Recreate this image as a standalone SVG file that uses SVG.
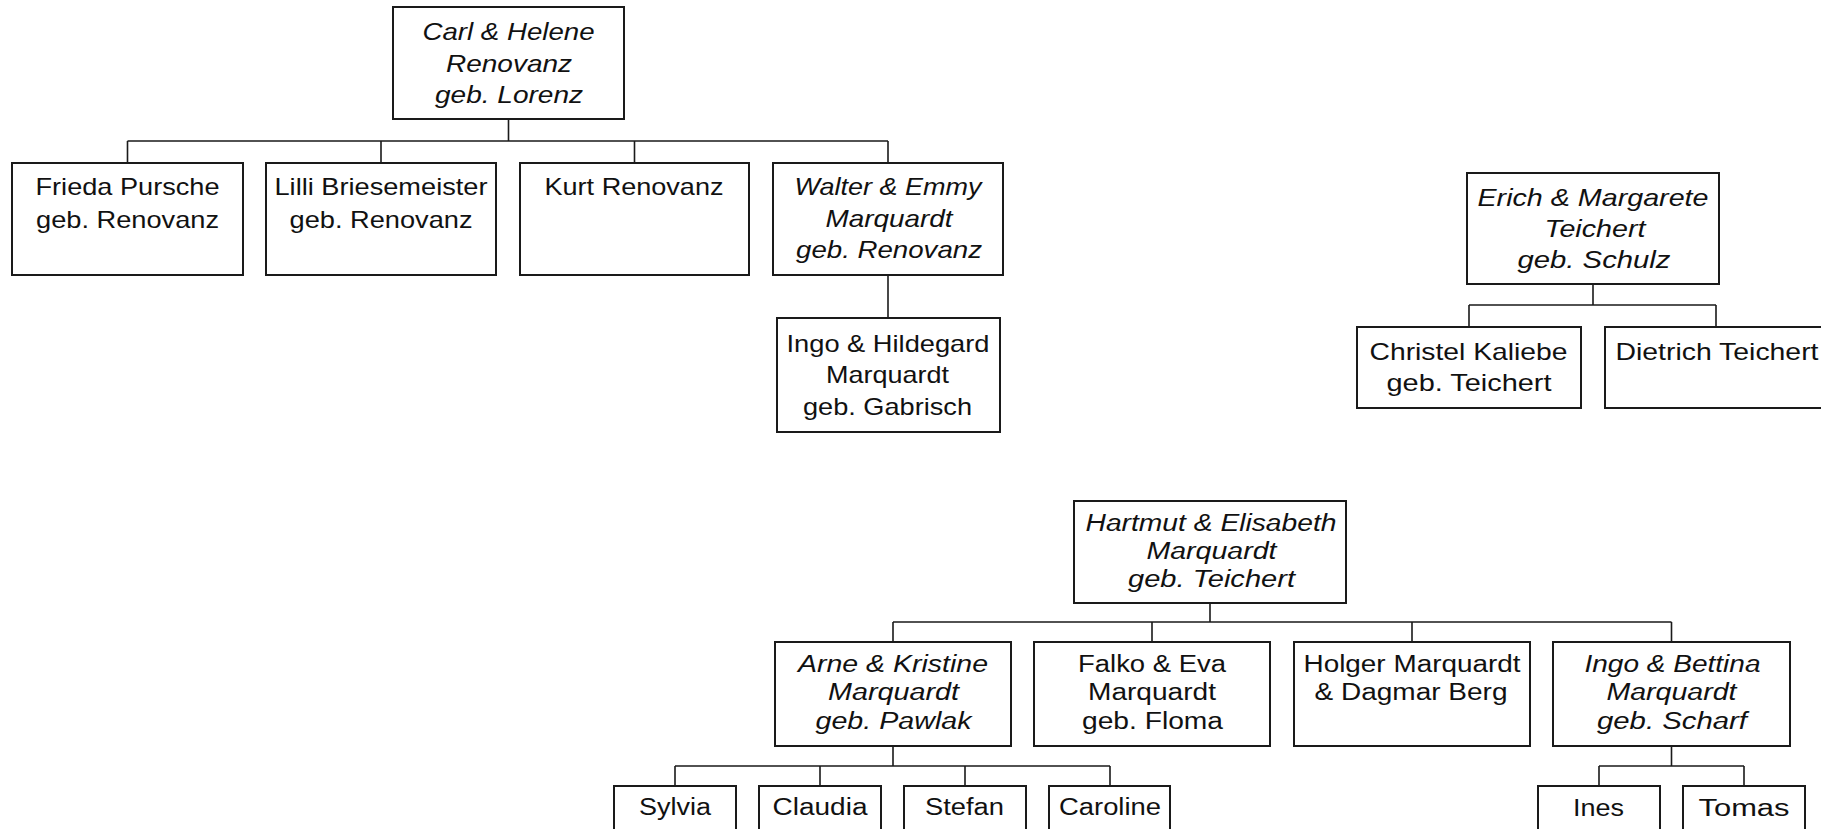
<svg xmlns="http://www.w3.org/2000/svg" width="1821" height="829" viewBox="0 0 1821 829">
<style>
rect.n{fill:#fff;stroke:#1a1a1a;stroke-width:2}
.c path{fill:none;stroke:#1a1a1a;stroke-width:1.6}
text{font-family:"Liberation Sans",Arial,sans-serif;fill:#111;text-anchor:middle}
.t{font-size:24px}
.b{font-size:23px}
.i{font-style:italic}
</style>
<rect width="1821" height="829" fill="#fff"/>
<g class="c" id="connectors">
<path d="M508.5,119V141M127.5,141H888M127.5,141V163M381,141V163M634.5,141V163M888,141V163"/>
<path d="M888,275V318"/>
<path d="M1593,284V305M1469,305H1716M1469,305V327M1716,305V327"/>
<path d="M1210,603V622M893,622H1671.5M893,622V642M1152,622V642M1412,622V642M1671.5,622V642"/>
<path d="M893,746V766M675,766H1110M675,766V786M820,766V786M965,766V786M1110,766V786"/>
<path d="M1671.5,746V766M1599,766H1744M1599,766V786M1744,766V786"/>
</g>
<g id="carl" class="t i">
<rect class="n" x="393" y="7" width="231" height="112"/>
<text x="508.5" y="40" textLength="172" lengthAdjust="spacingAndGlyphs">Carl &amp; Helene</text>
<text x="509" y="71.5" textLength="126" lengthAdjust="spacingAndGlyphs">Renovanz</text>
<text x="509" y="103" textLength="148" lengthAdjust="spacingAndGlyphs">geb. Lorenz</text>
</g>
<g id="frieda" class="t">
<rect class="n" x="12" y="163" width="231" height="112"/>
<text x="127.5" y="195" textLength="184" lengthAdjust="spacingAndGlyphs">Frieda Pursche</text>
<text x="127.5" y="227.5" textLength="183" lengthAdjust="spacingAndGlyphs">geb. Renovanz</text>
</g>
<g id="lilli" class="t">
<rect class="n" x="266" y="163" width="230" height="112"/>
<text x="381" y="195" textLength="213" lengthAdjust="spacingAndGlyphs">Lilli Briesemeister</text>
<text x="381" y="227.5" textLength="183" lengthAdjust="spacingAndGlyphs">geb. Renovanz</text>
</g>
<g id="kurt" class="t">
<rect class="n" x="520" y="163" width="229" height="112"/>
<text x="634" y="195" textLength="179" lengthAdjust="spacingAndGlyphs">Kurt Renovanz</text>
</g>
<g id="walter" class="t i">
<rect class="n" x="773" y="163" width="230" height="112"/>
<text x="888" y="195" textLength="187" lengthAdjust="spacingAndGlyphs">Walter &amp; Emmy</text>
<text x="889" y="226.7" textLength="127" lengthAdjust="spacingAndGlyphs">Marquardt</text>
<text x="889" y="258.3" textLength="186" lengthAdjust="spacingAndGlyphs">geb. Renovanz</text>
</g>
<g id="ingo-hildegard" class="t">
<rect class="n" x="777" y="318" width="223" height="114"/>
<text x="888" y="351.5" textLength="203" lengthAdjust="spacingAndGlyphs">Ingo &amp; Hildegard</text>
<text x="887.5" y="383.3" textLength="123" lengthAdjust="spacingAndGlyphs">Marquardt</text>
<text x="887.5" y="415" textLength="169" lengthAdjust="spacingAndGlyphs">geb. Gabrisch</text>
</g>
<g id="erich" class="t i">
<rect class="n" x="1467" y="173" width="252" height="111"/>
<text x="1593" y="206" textLength="231" lengthAdjust="spacingAndGlyphs">Erich &amp; Margarete</text>
<text x="1595" y="236.5" textLength="101" lengthAdjust="spacingAndGlyphs">Teichert</text>
<text x="1594" y="267.5" textLength="153" lengthAdjust="spacingAndGlyphs">geb. Schulz</text>
</g>
<g id="christel" class="t">
<rect class="n" x="1357" y="327" width="224" height="81"/>
<text x="1468.5" y="359.5" textLength="198" lengthAdjust="spacingAndGlyphs">Christel Kaliebe</text>
<text x="1469" y="390.7" textLength="165" lengthAdjust="spacingAndGlyphs">geb. Teichert</text>
</g>
<g id="dietrich" class="t">
<rect class="n" x="1605" y="327" width="222" height="81"/>
<text x="1717" y="359.5" textLength="203" lengthAdjust="spacingAndGlyphs">Dietrich Teichert</text>
</g>
<g id="hartmut" class="b i">
<rect class="n" x="1074" y="501" width="272" height="102"/>
<text x="1211" y="530.7" textLength="251" lengthAdjust="spacingAndGlyphs">Hartmut &amp; Elisabeth</text>
<text x="1211.5" y="559" textLength="130" lengthAdjust="spacingAndGlyphs">Marquardt</text>
<text x="1211.5" y="587.3" textLength="167" lengthAdjust="spacingAndGlyphs">geb. Teichert</text>
</g>
<g id="arne" class="b i">
<rect class="n" x="775" y="642" width="236" height="104"/>
<text x="893" y="671.7" textLength="190" lengthAdjust="spacingAndGlyphs">Arne &amp; Kristine</text>
<text x="893.5" y="700" textLength="131" lengthAdjust="spacingAndGlyphs">Marquardt</text>
<text x="893.5" y="728.5" textLength="156" lengthAdjust="spacingAndGlyphs">geb. Pawlak</text>
</g>
<g id="falko" class="b">
<rect class="n" x="1034" y="642" width="236" height="104"/>
<text x="1152" y="671.7" textLength="148" lengthAdjust="spacingAndGlyphs">Falko &amp; Eva</text>
<text x="1152" y="700" textLength="128" lengthAdjust="spacingAndGlyphs">Marquardt</text>
<text x="1152.5" y="728.5" textLength="141" lengthAdjust="spacingAndGlyphs">geb. Floma</text>
</g>
<g id="holger" class="b">
<rect class="n" x="1294" y="642" width="236" height="104"/>
<text x="1412" y="671.7" textLength="217" lengthAdjust="spacingAndGlyphs">Holger Marquardt</text>
<text x="1411" y="700" textLength="193" lengthAdjust="spacingAndGlyphs">&amp; Dagmar Berg</text>
</g>
<g id="ingo-bettina" class="b i">
<rect class="n" x="1553" y="642" width="237" height="104"/>
<text x="1672.5" y="671.7" textLength="176" lengthAdjust="spacingAndGlyphs">Ingo &amp; Bettina</text>
<text x="1671.5" y="700" textLength="130" lengthAdjust="spacingAndGlyphs">Marquardt</text>
<text x="1672" y="729" textLength="150" lengthAdjust="spacingAndGlyphs">geb. Scharf</text>
</g>
<g id="sylvia" class="b">
<rect class="n" x="614" y="786" width="122" height="70"/>
<text x="675" y="815" textLength="72" lengthAdjust="spacingAndGlyphs">Sylvia</text>
</g>
<g id="claudia" class="b">
<rect class="n" x="759" y="786" width="122" height="70"/>
<text x="820" y="815" textLength="95" lengthAdjust="spacingAndGlyphs">Claudia</text>
</g>
<g id="stefan" class="b">
<rect class="n" x="904" y="786" width="122" height="70"/>
<text x="964.5" y="815" textLength="79" lengthAdjust="spacingAndGlyphs">Stefan</text>
</g>
<g id="caroline" class="b">
<rect class="n" x="1049" y="786" width="121" height="70"/>
<text x="1110" y="815" textLength="102" lengthAdjust="spacingAndGlyphs">Caroline</text>
</g>
<g id="ines" class="b">
<rect class="n" x="1538" y="786" width="122" height="70"/>
<text x="1598.5" y="816" textLength="51" lengthAdjust="spacingAndGlyphs">Ines</text>
</g>
<g id="tomas" class="b">
<rect class="n" x="1683" y="786" width="122" height="70"/>
<text x="1744" y="816" textLength="91" lengthAdjust="spacingAndGlyphs">Tomas</text>
</g>
</svg>
